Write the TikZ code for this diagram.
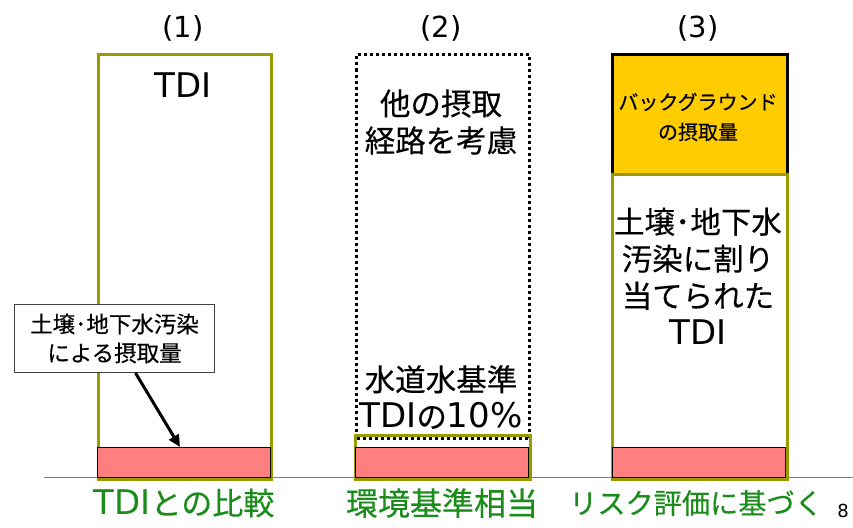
\documentclass[tikz,border=0pt]{standalone}
\usepackage{fontspec}
\setmainfont[FakeBold=0.3]{Noto Sans CJK JP}
\newfontfamily\latfont{DejaVu Sans}
\newcommand{\latn}[2][34]{{\latfont\fontsize{#1}{37}\selectfont #2}}
\usetikzlibrary{arrows.meta}
\definecolor{olivec}{HTML}{999900}
\definecolor{pinkc}{HTML}{FF7F7F}
\definecolor{yellowc}{HTML}{FFCC00}
\definecolor{greenc}{HTML}{1A8C1A}
\tikzset{
  colbox/.style={draw=olivec, line width=3pt, anchor=north west, inner sep=0pt},
  pinkbar/.style={draw=black, fill=pinkc, line width=1pt, anchor=north west, inner sep=0pt},
  dotbox/.style={draw=black, line width=3pt, dash pattern=on 3pt off 3pt, anchor=north west, inner sep=0pt},
  bgbox/.style={draw=black, fill=yellowc, line width=3pt, anchor=north west, inner sep=0pt},
  bigtxt/.style={font=\fontsize{30.5}{37}\selectfont, align=center, inner sep=0pt},
  numtxt/.style={font=\latfont\fontsize{29}{32}\selectfont, inner sep=0pt},
  greentxt/.style={font=\fontsize{31}{34}\selectfont, text=greenc, inner sep=0pt},
  calloutbox/.style={draw=black!75, line width=1pt, fill=white, align=center, font=\fontsize{22.5}{29}\selectfont, anchor=north west, inner sep=0pt},
  pointer/.style={line width=3pt, -{Triangle[length=12pt,width=11pt]}},
}
\begin{document}
\begin{tikzpicture}[x=1pt,y=-1pt]
\useasboundingbox (0,0) rectangle (853,527);
% baseline
\coordinate (gl) at (44,477);
\coordinate (gr) at (853,477);
\draw[gray, line width=1pt] (gl) -- (gr);
% column 1
\node[colbox, minimum width=173pt, minimum height=425pt] (b1) at (97,53) {};
\node[pinkbar, minimum width=173pt, minimum height=30pt] (p1) at (97,447) {};
% column 2
\node[dotbox, minimum width=173pt, minimum height=384pt] (b2) at (355,53) {};
\node[colbox, minimum width=175pt, minimum height=44pt] (o2) at (354,434) {};
\node[pinkbar, minimum width=173pt, minimum height=30pt] (p2) at (355,447) {};
% column 3
\node[bgbox, minimum width=175pt, minimum height=120pt] (y3) at (611,53) {};
\node[colbox, minimum width=175pt, minimum height=305pt] (b3) at (611,173) {};
\node[pinkbar, minimum width=173pt, minimum height=30pt] (p3) at (612,447) {};
% headings
\node[numtxt] (n1) at (183,28) {(1)};
\node[numtxt] (n2) at (441,28) {(2)};
\node[numtxt] (n3) at (698,28) {(3)};
% texts
\node[bigtxt] (t1) at (183,85) {\latn{TDI}};
\node[bigtxt] (t2a) at (441,122) {他の摂取\\経路を考慮};
\node[bigtxt] (t2b) at (441,397) {水道水基準\\\latn{TDI}の\latn{10\%}};
\node[font=\fontsize{20}{30}\selectfont, align=center, inner sep=0pt] (t3a) at (698,117) {バックグラウンド\\の摂取量};
\node[bigtxt] (t3b) at (698,276) {土壌･地下水\\汚染に割り\\当てられた\\\latn{TDI}};
% callout
\node[calloutbox, minimum width=200pt, minimum height=68pt] (co) at (14,304) {土壌･地下水汚染\\による摂取量};
\draw[pointer] ([xshift=21pt]co.south) -- ([xshift=-4pt]p1.north);
% bottom labels
\node[greentxt] (g1) at (184,503) {\latn{TDI}との比較};
\node[greentxt, font=\fontsize{32}{34}\selectfont] (g2) at (442,503) {環境基準相当};
\node[greentxt, font=\fontsize{28.2}{34}\selectfont] (g3) at (696,503) {リスク評価に基づく};
\node[font=\latfont\fontsize{18}{20}\selectfont, inner sep=0pt] (pg) at (843,511) {8};
\end{tikzpicture}
\end{document}
